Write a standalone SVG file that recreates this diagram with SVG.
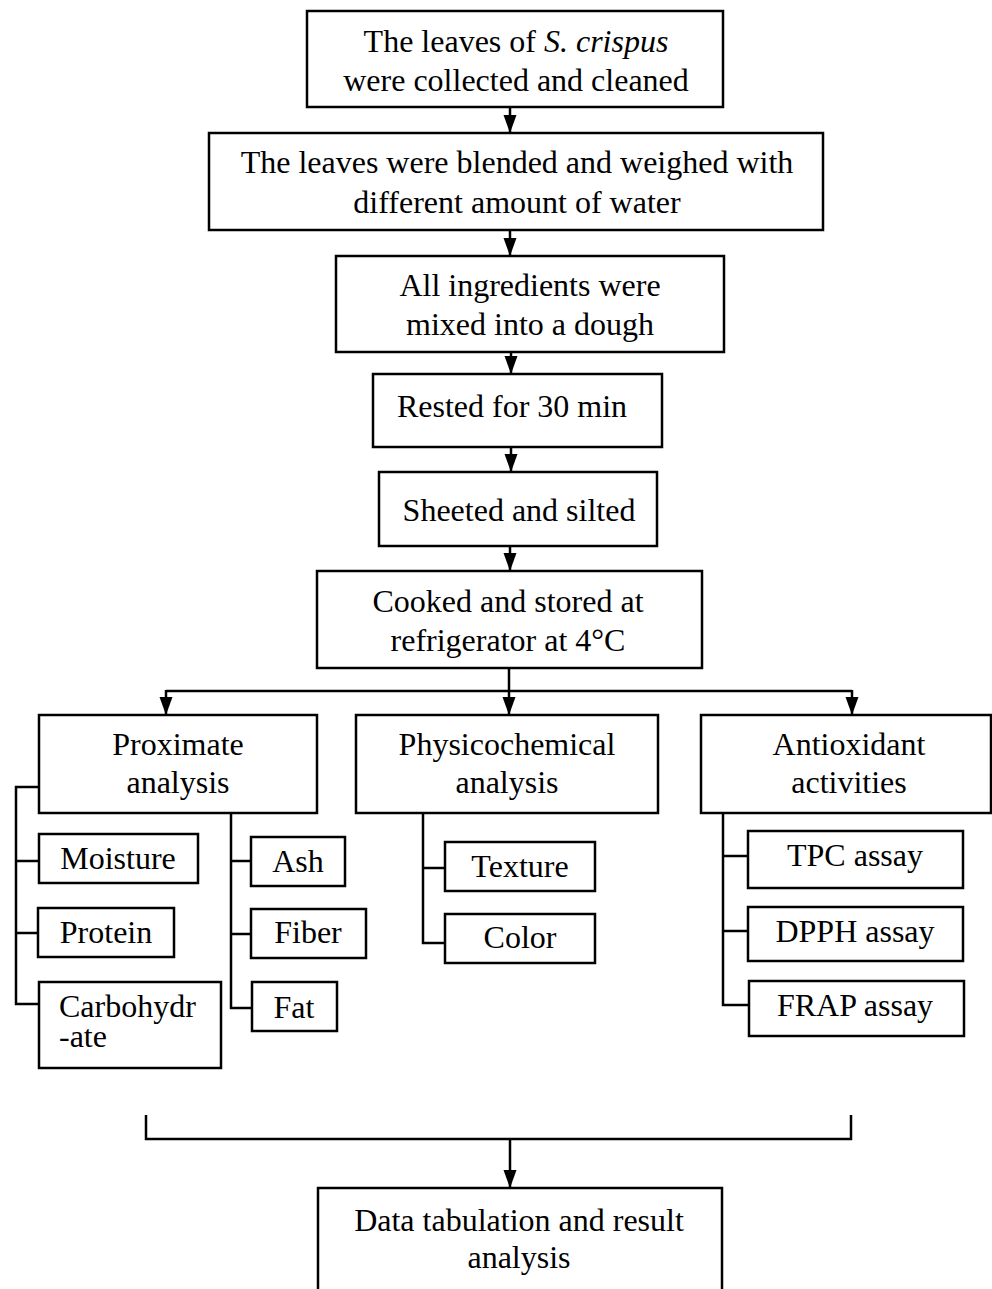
<svg xmlns="http://www.w3.org/2000/svg" width="992" height="1289" viewBox="0 0 992 1289">
<style>
.box{fill:#fff;stroke:#000;stroke-width:2.5}
.ln{fill:none;stroke:#000;stroke-width:2.5}
text{font-family:"Liberation Serif","Times New Roman",serif;font-size:32px;fill:#000}
.c{text-anchor:middle}
</style>
<defs>
<marker id="ah" markerUnits="userSpaceOnUse" markerWidth="18" markerHeight="14" refX="18" refY="7" orient="auto">
<path d="M0,0.5 L18,7 L0,13.5 Z" fill="#000"/>
</marker>
</defs>
<rect width="992" height="1289" fill="#fff"/>
<g id="connectors">
<path class="ln" d="M510,107 V133" marker-end="url(#ah)"/>
<path class="ln" d="M510,230 V256" marker-end="url(#ah)"/>
<path class="ln" d="M511,352 V374" marker-end="url(#ah)"/>
<path class="ln" d="M511,447 V472" marker-end="url(#ah)"/>
<path class="ln" d="M510,546 V571" marker-end="url(#ah)"/>
<path class="ln" d="M509,668 V715" marker-end="url(#ah)"/>
<path class="ln" d="M166,691 H852"/>
<path class="ln" d="M166,690 V715" marker-end="url(#ah)"/>
<path class="ln" d="M852,690 V715" marker-end="url(#ah)"/>
<path class="ln" d="M39,787 H16 V1004 H39 M16,861 H39 M16,933 H38"/>
<path class="ln" d="M231,813 V1008 H252 M231,861 H251 M231,934 H251"/>
<path class="ln" d="M423,813 V943 H445 M423,868 H445"/>
<path class="ln" d="M723,813 V1005 H749 M723,856 H748 M723,931 H748"/>
<path class="ln" d="M146,1115 V1139 H851 V1115"/>
<path class="ln" d="M510,1139 V1188" marker-end="url(#ah)"/>
</g>
<g id="n1"><rect class="box" x="307" y="11" width="416" height="96"/>
<text class="c" x="516" y="52">The leaves of <tspan font-style="italic">S. crispus</tspan></text>
<text class="c" x="516" y="91">were collected and cleaned</text></g>
<g id="n2"><rect class="box" x="209" y="133" width="614" height="97"/>
<text class="c" x="517" y="173">The leaves were blended and weighed with</text>
<text class="c" x="517" y="213">different amount of water</text></g>
<g id="n3"><rect class="box" x="336" y="256" width="388" height="96"/>
<text class="c" x="530" y="296">All ingredients were</text>
<text class="c" x="530" y="335">mixed into a dough</text></g>
<g id="n4"><rect class="box" x="373" y="374" width="289" height="73"/>
<text class="c" x="512" y="417">Rested for 30 min</text></g>
<g id="n5"><rect class="box" x="379" y="472" width="278" height="74"/>
<text class="c" x="519" y="521">Sheeted and silted</text></g>
<g id="n6"><rect class="box" x="317" y="571" width="385" height="97"/>
<text class="c" x="508" y="612">Cooked and stored at</text>
<text class="c" x="508" y="651">refrigerator at 4°C</text></g>
<g id="n7"><rect class="box" x="39" y="715" width="278" height="98"/>
<text class="c" x="178" y="755">Proximate</text>
<text class="c" x="178" y="793">analysis</text></g>
<g id="n8"><rect class="box" x="356" y="715" width="302" height="98"/>
<text class="c" x="507" y="755">Physicochemical</text>
<text class="c" x="507" y="793">analysis</text></g>
<g id="n9"><rect class="box" x="701" y="715" width="290" height="98"/>
<text class="c" x="849" y="755">Antioxidant</text>
<text class="c" x="849" y="793">activities</text></g>
<g id="n10"><rect class="box" x="39" y="834" width="159" height="49"/>
<text class="c" x="118" y="869">Moisture</text></g>
<g id="n11"><rect class="box" x="38" y="908" width="136" height="49"/>
<text class="c" x="106" y="943">Protein</text></g>
<g id="n12"><rect class="box" x="39" y="982" width="182" height="86"/>
<text x="59" y="1017">Carbohydr</text>
<text x="59" y="1047">-ate</text></g>
<g id="n13"><rect class="box" x="251" y="837" width="94" height="49"/>
<text class="c" x="298" y="872">Ash</text></g>
<g id="n14"><rect class="box" x="251" y="909" width="115" height="49"/>
<text class="c" x="308" y="943">Fiber</text></g>
<g id="n15"><rect class="box" x="252" y="982" width="85" height="49"/>
<text class="c" x="294" y="1018">Fat</text></g>
<g id="n16"><rect class="box" x="445" y="842" width="150" height="49"/>
<text class="c" x="520" y="877">Texture</text></g>
<g id="n17"><rect class="box" x="445" y="914" width="150" height="49"/>
<text class="c" x="520" y="948">Color</text></g>
<g id="n18"><rect class="box" x="748" y="831" width="215" height="57"/>
<text class="c" x="855" y="866">TPC assay</text></g>
<g id="n19"><rect class="box" x="748" y="907" width="215" height="54"/>
<text class="c" x="855" y="942">DPPH assay</text></g>
<g id="n20"><rect class="box" x="749" y="981" width="215" height="55"/>
<text class="c" x="855" y="1016">FRAP assay</text></g>
<g id="n21"><rect class="box" x="318" y="1188" width="404" height="120"/>
<text class="c" x="519" y="1231">Data tabulation and result</text>
<text class="c" x="519" y="1268">analysis</text></g>
</svg>
